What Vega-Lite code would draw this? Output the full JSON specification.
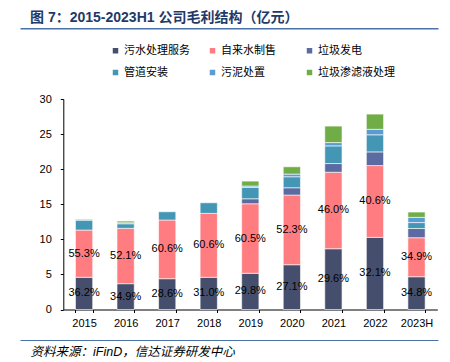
{
  "$schema": "https://vega.github.io/schema/vega-lite/v6.json",
  "width": 418,
  "height": 210.5,
  "autosize": {"type": "none"},
  "padding": {"left": 20, "top": 99, "right": 12, "bottom": 52.5},
  "background": "white",
  "config": {"view": {"stroke": null}, "font": "Liberation Sans, Noto Sans CJK SC"},
  "title": {
    "text": "图 7：2015-2023H1 公司毛利结构（亿元）",
    "anchor": "start",
    "frame": "group",
    "dx": 10,
    "offset": 3,
    "fontSize": 14,
    "fontWeight": "bold",
    "font": "Liberation Sans, Noto Sans CJK SC",
    "color": "#1f3a68"
  },
  "data": {
    "values": [
      {"year": "2015", "type": "污水处理服务", "k": 1, "v": 4.59, "pct": "36.2%"},
      {"year": "2015", "type": "自来水制售", "k": 2, "v": 6.73, "pct": "55.3%"},
      {"year": "2015", "type": "管道安装", "k": 4, "v": 1.43},
      {"year": "2015", "type": "污泥处置", "k": 5, "v": 0.04},
      {"year": "2015", "type": "垃圾渗滤液处理", "k": 6, "v": 0.1},
      {"year": "2016", "type": "污水处理服务", "k": 1, "v": 3.68, "pct": "34.9%"},
      {"year": "2016", "type": "自来水制售", "k": 2, "v": 7.89, "pct": "52.1%"},
      {"year": "2016", "type": "管道安装", "k": 4, "v": 0.65},
      {"year": "2016", "type": "污泥处置", "k": 5, "v": 0.14},
      {"year": "2016", "type": "垃圾渗滤液处理", "k": 6, "v": 0.24},
      {"year": "2017", "type": "污水处理服务", "k": 1, "v": 4.39, "pct": "28.6%"},
      {"year": "2017", "type": "自来水制售", "k": 2, "v": 8.36, "pct": "60.6%"},
      {"year": "2017", "type": "管道安装", "k": 4, "v": 1.18},
      {"year": "2018", "type": "污水处理服务", "k": 1, "v": 4.59, "pct": "31.0%"},
      {"year": "2018", "type": "自来水制售", "k": 2, "v": 9.11, "pct": "60.6%"},
      {"year": "2018", "type": "管道安装", "k": 4, "v": 1.51},
      {"year": "2019", "type": "污水处理服务", "k": 1, "v": 5.16, "pct": "29.8%"},
      {"year": "2019", "type": "自来水制售", "k": 2, "v": 9.91, "pct": "60.5%"},
      {"year": "2019", "type": "垃圾发电", "k": 3, "v": 0.71},
      {"year": "2019", "type": "管道安装", "k": 4, "v": 1.63},
      {"year": "2019", "type": "污泥处置", "k": 5, "v": 0.18},
      {"year": "2019", "type": "垃圾渗滤液处理", "k": 6, "v": 0.71},
      {"year": "2020", "type": "污水处理服务", "k": 1, "v": 6.38, "pct": "27.1%"},
      {"year": "2020", "type": "自来水制售", "k": 2, "v": 9.93, "pct": "52.3%"},
      {"year": "2020", "type": "垃圾发电", "k": 3, "v": 1.04},
      {"year": "2020", "type": "管道安装", "k": 4, "v": 1.57},
      {"year": "2020", "type": "污泥处置", "k": 5, "v": 0.38},
      {"year": "2020", "type": "垃圾渗滤液处理", "k": 6, "v": 1.04},
      {"year": "2021", "type": "污水处理服务", "k": 1, "v": 8.66, "pct": "29.6%"},
      {"year": "2021", "type": "自来水制售", "k": 2, "v": 10.9, "pct": "46.0%"},
      {"year": "2021", "type": "垃圾发电", "k": 3, "v": 1.24},
      {"year": "2021", "type": "管道安装", "k": 4, "v": 2.52},
      {"year": "2021", "type": "污泥处置", "k": 5, "v": 0.47},
      {"year": "2021", "type": "垃圾渗滤液处理", "k": 6, "v": 2.35},
      {"year": "2022", "type": "污水处理服务", "k": 1, "v": 10.28, "pct": "32.1%"},
      {"year": "2022", "type": "自来水制售", "k": 2, "v": 10.23, "pct": "40.6%"},
      {"year": "2022", "type": "垃圾发电", "k": 3, "v": 1.95},
      {"year": "2022", "type": "管道安装", "k": 4, "v": 2.44},
      {"year": "2022", "type": "污泥处置", "k": 5, "v": 0.78},
      {"year": "2022", "type": "垃圾渗滤液处理", "k": 6, "v": 2.17},
      {"year": "2023H", "type": "污水处理服务", "k": 1, "v": 4.67, "pct": "34.8%"},
      {"year": "2023H", "type": "自来水制售", "k": 2, "v": 5.56, "pct": "34.9%"},
      {"year": "2023H", "type": "垃圾发电", "k": 3, "v": 1.31},
      {"year": "2023H", "type": "管道安装", "k": 4, "v": 0.85},
      {"year": "2023H", "type": "污泥处置", "k": 5, "v": 0.74},
      {"year": "2023H", "type": "垃圾渗滤液处理", "k": 6, "v": 0.76}
    ]
  },
  "layer": [
    {
      "layer": [
        {
          "mark": {"type": "bar", "stroke": "white", "strokeWidth": 0.6},
          "encoding": {
            "x": {
              "field": "year", "type": "ordinal", "sort": null,
              "scale": {"range": [43.3, 417.3], "paddingInner": 0.585, "paddingOuter": 0.2925},
              "axis": {
                "title": null, "labelAngle": 0, "domainColor": "#000", "tickColor": "#000",
                "tickSize": 3, "tickBand": "extent", "labelPadding": 5, "labelFontSize": 11,
                "labelColor": "#000", "labelFont": "Liberation Sans", "grid": false, "labelOverlap": false
              }
            },
            "y": {
              "field": "v", "type": "quantitative", "stack": "zero",
              "scale": {"domain": [0, 30], "nice": false},
              "axis": {
                "title": null, "values": [0, 5, 10, 15, 20, 25, 30], "offset": -43.3,
                "domainColor": "#000", "tickColor": "#000", "tickSize": 3, "labelPadding": 9,
                "labelFontSize": 11, "labelColor": "#000", "labelFont": "Liberation Sans", "grid": false,
                "labelOverlap": false
              }
            },
            "color": {
              "field": "type", "type": "nominal",
              "scale": {
                "domain": ["污水处理服务", "自来水制售", "垃圾发电", "管道安装", "污泥处置", "垃圾渗滤液处理"],
                "range": ["#454f6d", "#ff7c80", "#5b6aa0", "#4397b5", "#5b9bd5", "#70ad47"]
              },
              "legend": {
                "orient": "none", "legendX": 90, "legendY": -54, "direction": "horizontal",
                "columns": 3, "gridAlign": "all", "columnPadding": 6, "rowPadding": 10,
                "symbolType": "square", "symbolSize": 30, "symbolStrokeWidth": 0,
                "labelFontSize": 11, "labelColor": "#000", "labelOffset": 3, "title": null,
                "padding": 0, "labelFont": "Liberation Sans, Noto Sans CJK SC", "labelLimit": 200
              }
            },
            "order": {"field": "k", "type": "quantitative"}
          }
        },
        {
          "transform": [
            {"stack": "v", "groupby": ["year"], "sort": [{"field": "k", "order": "ascending"}], "as": ["y0", "y1"]},
            {"filter": "datum.pct != null"},
            {"calculate": "(datum.y0 + datum.y1) / 2", "as": "mid"}
          ],
          "mark": {"type": "text", "fontSize": 11, "color": "#000", "font": "Liberation Sans"},
          "encoding": {
            "x": {"field": "year", "type": "ordinal", "sort": null},
            "y": {
              "field": "mid", "type": "quantitative",
              "axis": {
                "title": null, "values": [0, 5, 10, 15, 20, 25, 30], "offset": -43.3,
                "domainColor": "#000", "tickColor": "#000", "tickSize": 3, "labelPadding": 9,
                "labelFontSize": 11, "labelColor": "#000", "labelFont": "Liberation Sans", "grid": false,
                "labelOverlap": false
              }
            },
            "text": {"field": "pct"}
          }
        }
      ]
    },
    {
      "mark": {"type": "point", "opacity": 0, "size": 0},
      "encoding": {
        "x": {
          "field": "year", "type": "ordinal", "sort": null,
          "axis": {"orient": "top", "offset": 70.7, "domainColor": "#4a72a8", "domainWidth": 1.5,
                   "ticks": false, "labels": false, "title": null, "grid": false}
        }
      }
    },
    {
      "mark": {"type": "point", "opacity": 0, "size": 0},
      "encoding": {
        "x": {
          "field": "year", "type": "ordinal", "sort": null,
          "axis": {"orient": "bottom", "offset": 30.5, "domainColor": "#4a72a8", "domainWidth": 1.2,
                   "ticks": false, "labels": false, "grid": false,
                   "title": "资料来源：iFinD，信达证券研发中心",
                   "titleX": 10, "titleY": 11, "titleAlign": "left", "titleBaseline": "middle",
                   "titleFontSize": 12.5, "titleFontStyle": "italic", "titleFontWeight": "normal",
                   "titleColor": "#000", "titleFont": "Liberation Sans, Noto Sans CJK SC"}
        }
      }
    }
  ],
  "resolve": {"scale": {"x": "independent"}}
}
